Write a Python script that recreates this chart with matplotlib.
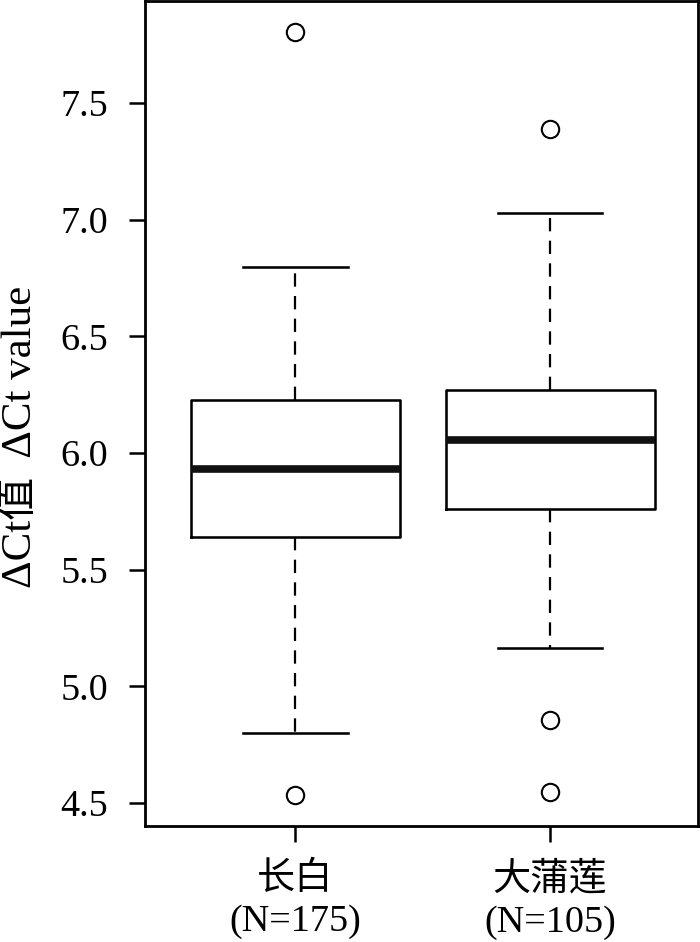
import matplotlib
matplotlib.use("Agg")
import matplotlib.pyplot as plt

# Data
categories = ["长白\n(N=175)", "大蒲莲\n(N=105)"]
whislo = [4.80, 5.165]
q1 = [5.64, 5.76]
med = [5.93, 6.055]
q3 = [6.225, 6.27]
whishi = [6.795, 7.027]
fliers = [[7.805, 4.535], [7.39, 4.855, 4.548]]
yticks = [4.5, 5.0, 5.5, 6.0, 6.5, 7.0, 7.5]
ylabel = "ΔCt值  ΔCt value"

plt.rcParams['font.family'] = ['Liberation Serif', 'Noto Sans CJK SC']

fig = plt.figure(figsize=(7.0, 9.42), dpi=100)
ax = fig.add_axes([0.2071, 0.1231, 0.7899, 0.8759])

stats = []
for i in range(len(categories)):
    stats.append(dict(med=med[i], q1=q1[i], q3=q3[i], whislo=whislo[i],
                      whishi=whishi[i], fliers=fliers[i]))

lw = 1.85
ax.bxp(stats, positions=[1, 2], widths=0.82, showfliers=True,
       boxprops=dict(color='black', linewidth=lw),
       medianprops=dict(color='#111111', linewidth=5.5, solid_capstyle='butt'),
       whiskerprops=dict(color='black', linewidth=1.6, linestyle=(0, (6.0, 4.2))),
       capprops=dict(color='black', linewidth=lw),
       capwidths=0.41,
       flierprops=dict(marker='o', markersize=12.5, markerfacecolor='none',
                       markeredgecolor='black', markeredgewidth=1.5, linestyle='none'))

ax.set_xlim(0.41, 2.58)
ax.set_ylim(4.401, 7.937)
ax.set_yticks(yticks)
ax.set_yticklabels([f"{v:.1f}" for v in yticks])
ax.set_xticks([1, 2])
ax.set_xticklabels(categories, linespacing=1.3)

for s in ax.spines.values():
    s.set_linewidth(2.0)
ax.tick_params(axis='both', direction='out', length=11.5, width=1.8, labelsize=27.5,
               colors='black')
ax.tick_params(axis='y', pad=15)
ax.tick_params(axis='x', pad=14)

ax.set_ylabel(ylabel, fontsize=31)
ax.yaxis.set_label_coords(-0.19, 0.472)

fig.savefig("out.png", dpi=100)
